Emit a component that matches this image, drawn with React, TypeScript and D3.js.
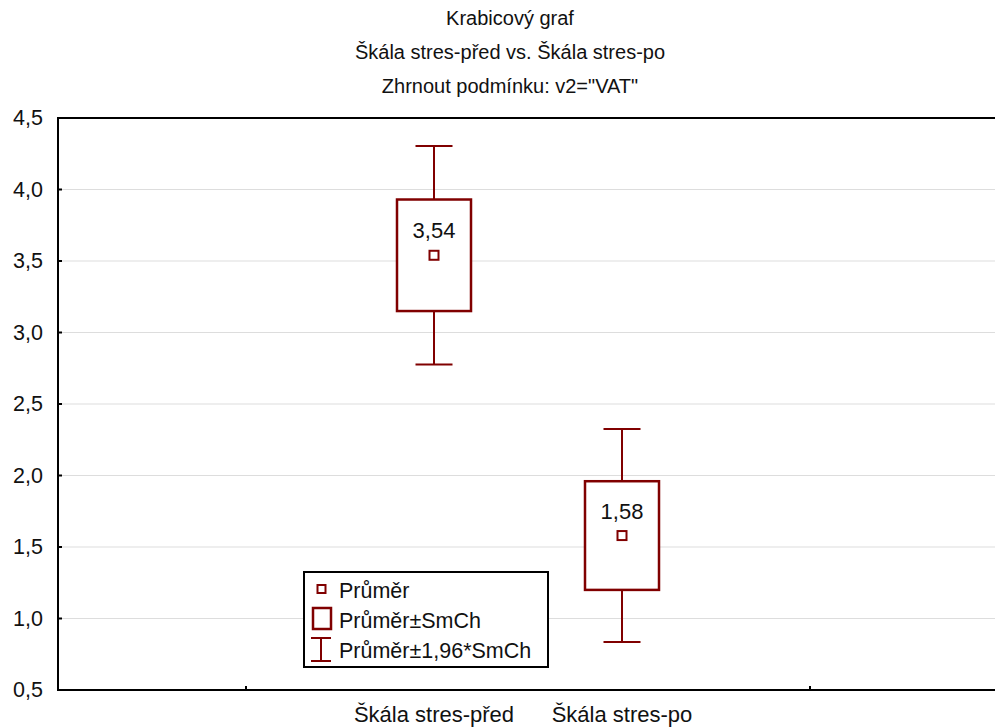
import React from "react";
import * as d3 from "d3";

const categories = ["Škála stres-před", "Škála stres-po"];
const means = [3.54, 1.58];
const stdErrs = [0.39, 0.38];
const meanLabels = ["3,54", "1,58"];
const yTicks = [0.5, 1.0, 1.5, 2.0, 2.5, 3.0, 3.5, 4.0, 4.5];
const titleLines = ["Krabicový graf", "Škála stres-před vs. Škála stres-po", "Zhrnout podmínku: v2=\"VAT\""];
const legendLabels = ["Průměr", "Průměr±SmCh", "Průměr±1,96*SmCh"];

const W = 995, H = 727;
const RED = "#800000";
const FONT = "'Liberation Sans', Arial, sans-serif";

export default function App() {
  const left = 58, right = 998, top = 118, bottom = 690;
  const y = d3.scaleLinear().domain([0.5, 4.5]).range([bottom, top]);
  const xb = d3.scaleLinear().domain([0, 5]).range([left, right]);
  const xc = (i: number) => xb(i + 2);
  const fmt = (v: number) => v.toFixed(1).replace(".", ",");
  const boxW = 74, capW = 37, mk = 9;

  return (
    <svg width={W} height={H} style={{ position: "absolute", left: 0, top: 0, background: "#fff" }} fontFamily={FONT}>
      <rect x={0} y={0} width={W} height={H} fill="#fff" />
      {titleLines.map((t, i) => (
        <text key={i} x={510} y={25 + i * 34} textAnchor="middle" fontSize={20} fill="#111">{t}</text>
      ))}
      {yTicks.map((t) => (
        <g key={t}>
          {t > 0.5 && t < 4.5 && <line x1={left} x2={W} y1={y(t)} y2={y(t)} stroke="#dddddd" strokeWidth={1} />}
          <line x1={left} x2={left + 4} y1={y(t)} y2={y(t)} stroke="#000" strokeWidth={2} />
          <text x={43} y={y(t) + 7} textAnchor="end" fontSize={21.5} fill="#111">{fmt(t)}</text>
        </g>
      ))}
      <line x1={left} x2={W} y1={top} y2={top} stroke="#000" strokeWidth={2} />
      <line x1={left} x2={left} y1={top - 1} y2={bottom + 1} stroke="#000" strokeWidth={2} />
      <line x1={left} x2={W} y1={bottom} y2={bottom} stroke="#000" strokeWidth={2} />
      {[1, 4].map((i) => (
        <line key={i} x1={xb(i)} x2={xb(i)} y1={bottom} y2={bottom - 4} stroke="#000" strokeWidth={2} />
      ))}
      {categories.map((c, i) => {
        const cx = xc(i);
        const m = means[i], se = stdErrs[i];
        return (
          <g key={c}>
            <line x1={cx} x2={cx} y1={y(m + 1.96 * se)} y2={y(m + se)} stroke={RED} strokeWidth={2} />
            <line x1={cx} x2={cx} y1={y(m - se)} y2={y(m - 1.96 * se)} stroke={RED} strokeWidth={2} />
            <line x1={cx - capW / 2} x2={cx + capW / 2} y1={y(m + 1.96 * se)} y2={y(m + 1.96 * se)} stroke={RED} strokeWidth={2} />
            <line x1={cx - capW / 2} x2={cx + capW / 2} y1={y(m - 1.96 * se)} y2={y(m - 1.96 * se)} stroke={RED} strokeWidth={2} />
            <rect x={cx - boxW / 2} y={y(m + se)} width={boxW} height={y(m - se) - y(m + se)} fill="#fff" stroke={RED} strokeWidth={2.5} />
            <rect x={cx - mk / 2} y={y(m) - mk / 2} width={mk} height={mk} fill="#fff" stroke={RED} strokeWidth={2} />
            <text x={cx} y={y(m) - 17} textAnchor="middle" fontSize={22} fill="#111">{meanLabels[i]}</text>
            <text x={cx} y={722} textAnchor="middle" fontSize={22} fill="#111">{c}</text>
          </g>
        );
      })}
      <g>
        <rect x={304} y={572} width={244} height={95} fill="#fff" stroke="#000" strokeWidth={2} />
        <rect x={317.5} y={585} width={8} height={8} fill="#fff" stroke={RED} strokeWidth={2} />
        <rect x={313} y={608} width={18} height={21} fill="#fff" stroke={RED} strokeWidth={2.5} />
        <line x1={311} x2={331} y1={638} y2={638} stroke={RED} strokeWidth={2} />
        <line x1={311} x2={331} y1={661} y2={661} stroke={RED} strokeWidth={2} />
        <line x1={321} x2={321} y1={638} y2={661} stroke={RED} strokeWidth={2} />
        {legendLabels.map((l, i) => (
          <text key={l} x={339} y={598 + i * 30} fontSize={21.5} fill="#111">{l}</text>
        ))}
      </g>
    </svg>
  );
}
